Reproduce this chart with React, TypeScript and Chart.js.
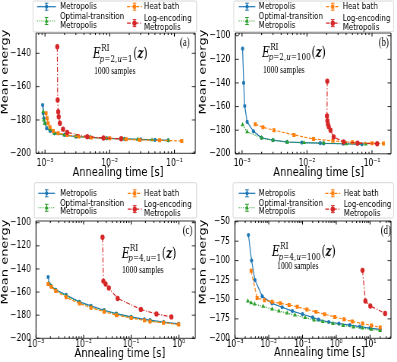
import React, { useEffect, useRef } from "react";
import { Chart, registerables } from "chart.js";
Chart.register(...registerables);

const K = 0.76; // horizontal squeeze of the reference figure

const BLUE = "#1f77b4";
const ORANGE = "#ff7f0e";
const GREEN = "#2ca02c";
const RED = "#d62728";

// ---------- tick labels ----------
const X_TICKS_AB = [1e-3, 1e-2, 1e-1];
const X_TICKS_C = [1e-3, 1e-2, 1e-1, 1];
const X_TICKS_D = [1e-3, 1e-2, 1e-1, 1, 10];
const Y_TICKS_A = [-200, -180, -160, -140];
const Y_TICKS_BC = [-200, -180, -160, -140, -120, -100];
const Y_TICKS_D = [-200, -175, -150, -125, -100, -75, -50];

const LEGEND_NAMES = ["Metropolis", "Optimal-transition\nMetropolis", "Heat bath", "Log-encoding\nMetropolis"];

// ---------- panel (a) p=2, u=1 ----------
const A_MET_X = [0.00092, 0.00094, 0.00096, 0.001, 0.00106, 0.0012, 0.0014, 0.002, 0.003, 0.005, 0.009, 0.017, 0.03, 0.05, 0.08];
const A_MET_Y = [-171, -176, -179, -182, -185, -186.6, -188, -189, -190, -190.4, -191, -191.4, -191.6, -192, -192.2];
const A_OPT_X = [0.00094, 0.00096, 0.00099, 0.0012, 0.0014, 0.002, 0.003, 0.005, 0.009, 0.016, 0.027, 0.045, 0.08];
const A_OPT_Y = [-175, -180, -182, -185.6, -188, -189, -190, -190.4, -191, -191.4, -191.6, -192, -192.4];
const A_HB_X = [0.00104, 0.00108, 0.00112, 0.0012, 0.00134, 0.0016, 0.0022, 0.0033, 0.0052, 0.01, 0.018, 0.029, 0.059, 0.13];
const A_HB_Y = [-176, -179, -182, -184.4, -186.6, -188, -189, -190, -190.6, -191, -191.6, -192, -192.2, -192.6];
const A_LOG_X = [0.00155, 0.00157, 0.0016, 0.00163, 0.0017, 0.0019, 0.0022, 0.0045, 0.008, 0.015];
const A_LOG_Y = [-136, -168, -175, -178, -182, -185.5, -187.5, -190, -190.8, -191.3];

// ---------- panel (b) p=2, u=100 ----------
const B_MET_X = [0.00102, 0.00106, 0.0011, 0.0012, 0.0015, 0.002, 0.003, 0.0049, 0.0083, 0.016, 0.018, 0.036, 0.07];
const B_MET_Y = [-111, -140, -159.5, -173, -181, -186.5, -188.5, -190, -190.5, -191, -191.2, -191.5, -192];
const B_OPT_X = [0.00102, 0.0012, 0.002, 0.003, 0.005, 0.009, 0.018, 0.04, 0.08];
const B_OPT_Y = [-175.5, -181.4, -186.5, -188.5, -190, -190.6, -191, -191.5, -191.8];
const B_HB_X = [0.0016, 0.0021, 0.0031, 0.0063, 0.0126, 0.025, 0.05, 0.1, 0.15];
const B_HB_Y = [-175, -177.5, -180, -184, -187.5, -189, -190.3, -191, -191.2];
const B_LOG_X = [0.0205, 0.0203, 0.0206, 0.021, 0.0216, 0.023, 0.0257, 0.0366, 0.06, 0.12];
const B_LOG_Y = [-138.5, -168, -172, -175, -177, -180, -185.7, -190, -191, -191.5];

// ---------- panel (c) p=4, u=1 ----------
const C_MET_X = [0.0018, 0.0019, 0.0021, 0.0026, 0.0043, 0.0082, 0.0143, 0.027, 0.049, 0.1, 0.19, 0.25, 0.48, 1.0];
const C_MET_Y = [-147, -153, -155, -158, -162.5, -168.5, -172, -175.7, -178.7, -181.5, -183.7, -184.3, -185.9, -187.5];
const C_OPT_X = [0.0018, 0.0021, 0.0026, 0.0043, 0.0082, 0.0143, 0.027, 0.049, 0.1, 0.19, 0.25, 0.48, 1.0];
const C_OPT_Y = [-152.7, -154.8, -158.2, -163.4, -169.2, -172.9, -176.4, -179.3, -182.1, -184.4, -185, -186.5, -187.9];
const C_HB_X = [0.0018, 0.0021, 0.0026, 0.0043, 0.0082, 0.0143, 0.027, 0.049, 0.1, 0.19, 0.25, 0.48, 1.0];
const C_HB_Y = [-153, -155.5, -159, -164.5, -170, -173.5, -177, -180, -182.5, -184.5, -185.5, -186.5, -188];
const C_LOG_X = [0.025, 0.026, 0.029, 0.034, 0.052, 0.16, 0.34, 0.7];
const C_LOG_Y = [-112.5, -150.5, -153, -156.5, -165.5, -175, -179, -181.5];

// ---------- panel (d) p=4, u=100 ----------
const D_MET_X = [0.0025, 0.0031, 0.0039, 0.0064, 0.0125, 0.025, 0.05, 0.1, 0.2, 0.3, 0.6, 1.2, 2.5, 5, 10, 20];
const D_MET_Y = [-67, -100, -125, -146, -155, -160, -165, -169, -173, -176, -179, -181, -183, -185, -187, -188.5];
const D_OPT_X = [0.0024, 0.003, 0.0038, 0.0068, 0.0126, 0.02, 0.035, 0.06, 0.12, 0.22, 0.4, 0.8, 1.6, 3.2, 6, 11, 20];
const D_OPT_Y = [-152, -154.5, -156, -159, -162.5, -165, -167.5, -170, -173.5, -176.5, -178.5, -181, -183.5, -185.5, -187, -188.5, -190];
const D_HB_X = [0.003, 0.0045, 0.0075, 0.0125, 0.022, 0.04, 0.07, 0.135, 0.25, 0.45, 0.9, 1.7, 3, 6, 11, 20];
const D_HB_Y = [-113, -148, -151, -153, -155, -157, -159.5, -163, -166, -169, -172.5, -175.5, -178.5, -181, -183.5, -186];
const D_LOG_X = [6.0, 7.3, 10.2, 28];
const D_LOG_Y = [-112.5, -152, -158.4, -168];

type Series = [number[], number[]];
type LegendGeom = {
  box: [number, number, number, number];
  c1Icon: [number, number];
  c1Text: number;
  c2Icon: [number, number];
  c2Text: number;
  r1: number;
  c1r2: [number, number];
  c2r2: [number, number];
};
type PanelCfg = {
  ox: number; oy: number; w: number; h: number;
  area: [number, number, number, number];
  xMin: number; xMax: number; yMin: number; yMax: number;
  xTicks: number[]; yTicks: number[];
  met: Series; opt: Series; hb: Series; log: Series;
  sub: string; tag: string;
  eX: number; eY: number; sX: number; sY: number; tX: number; tY: number;
  xLabelDy: number; xTitleX: number; xTitleY: number; yTitleX: number; yTitleY: number;
  legend: LegendGeom;
};

const STYLES = {
  met: { color: BLUE, dash: [] as number[], style: "circle", r: 2.1 },
  opt: { color: GREEN, dash: [1.2, 1.6], style: "triangle", r: 2.8 },
  hb: { color: ORANGE, dash: [4, 2], style: "rect", r: 2.8 },
  log: { color: RED, dash: [5, 2, 1.2, 2], style: "circle", r: 2.7 },
};

const SUP: Record<string, string> = { "-": "⁻", "0": "⁰", "1": "¹", "2": "²", "3": "³" };
function logLabel(v: number) {
  const e = Math.round(Math.log10(v));
  return "10" + String(e).split("").map((c) => SUP[c]).join("");
}
function numLabel(v: number) {
  return v < 0 ? "\u2212" + Math.abs(v) : String(v);
}

function drawMarker(ctx: CanvasRenderingContext2D, style: string, x: number, y: number, r: number) {
  ctx.beginPath();
  if (style === "circle") {
    ctx.arc(x, y, r, 0, Math.PI * 2);
  } else if (style === "rect") {
    const s = r * Math.SQRT1_2;
    ctx.rect(x - s, y - s, 2 * s, 2 * s);
  } else {
    let a = 0;
    ctx.moveTo(x + Math.sin(a) * r, y - Math.cos(a) * r);
    a += (2 * Math.PI) / 3;
    ctx.lineTo(x + Math.sin(a) * r, y - Math.cos(a) * r);
    a += (2 * Math.PI) / 3;
    ctx.lineTo(x + Math.sin(a) * r, y - Math.cos(a) * r);
    ctx.closePath();
  }
  ctx.fill();
}

function drawIcon(ctx: CanvasRenderingContext2D, x1: number, x2: number, y: number, st: any) {
  ctx.save();
  ctx.strokeStyle = st.color;
  ctx.fillStyle = st.color;
  ctx.lineWidth = 1.2;
  ctx.setLineDash(st.dash);
  ctx.beginPath();
  ctx.moveTo(x1 / K, y);
  ctx.lineTo(x2 / K, y);
  ctx.stroke();
  ctx.setLineDash([]);
  const cx = (x1 + x2) / 2 / K;
  ctx.lineWidth = 1 / K;
  ctx.beginPath();
  ctx.moveTo(cx, y - 3.5);
  ctx.lineTo(cx, y + 3.5);
  ctx.stroke();
  ctx.lineWidth = 1;
  ctx.beginPath();
  ctx.moveTo(cx - 1.8 / K, y - 3.5);
  ctx.lineTo(cx + 1.8 / K, y - 3.5);
  ctx.moveTo(cx - 1.8 / K, y + 3.5);
  ctx.lineTo(cx + 1.8 / K, y + 3.5);
  ctx.stroke();
  drawMarker(ctx, st.style, cx, y, st.r);
  ctx.restore();
}

function decor(p: PanelCfg) {
  return {
    id: "decor",
    afterDatasetsDraw(chart: any) {
      const ctx: CanvasRenderingContext2D = chart.ctx;
      const { left, right, top, bottom } = chart.chartArea;
      const xs = chart.scales.x;
      const ys = chart.scales.y;
      ctx.save();
      ctx.strokeStyle = "#000";
      ctx.fillStyle = "#000";
      // frame
      ctx.lineWidth = 0.8;
      ctx.beginPath();
      ctx.moveTo(left, top); ctx.lineTo(right, top);
      ctx.moveTo(left, bottom); ctx.lineTo(right, bottom);
      ctx.stroke();
      ctx.lineWidth = 0.8 / K;
      ctx.beginPath();
      ctx.moveTo(left, top); ctx.lineTo(left, bottom);
      ctx.moveTo(right, top); ctx.lineTo(right, bottom);
      ctx.stroke();
      // y ticks
      ctx.lineWidth = 0.8;
      ctx.font = "10px 'DejaVu Sans'";
      ctx.textAlign = "right";
      ctx.textBaseline = "middle";
      for (const v of p.yTicks) {
        const py = ys.getPixelForValue(v);
        ctx.beginPath();
        ctx.moveTo(left, py); ctx.lineTo(left + 3.5 / K, py);
        ctx.moveTo(right, py); ctx.lineTo(right - 3.5 / K, py);
        ctx.stroke();
        ctx.fillText(numLabel(v), left - 5 / K, py);
      }
      // x ticks (major + minor)
      ctx.lineWidth = 0.8 / K;
      const d0 = Math.floor(Math.log10(p.xMin));
      const d1 = Math.ceil(Math.log10(p.xMax));
      for (let d = d0; d <= d1; d++) {
        for (let m = 2; m <= 9; m++) {
          const v = m * Math.pow(10, d);
          if (v <= p.xMin || v >= p.xMax) continue;
          const px = xs.getPixelForValue(v);
          ctx.beginPath();
          ctx.moveTo(px, bottom); ctx.lineTo(px, bottom - 2);
          ctx.moveTo(px, top); ctx.lineTo(px, top + 2);
          ctx.stroke();
        }
      }
      ctx.textAlign = "center";
      for (const v of p.xTicks) {
        const px = xs.getPixelForValue(v);
        ctx.beginPath();
        ctx.moveTo(px, bottom); ctx.lineTo(px, bottom - 3.5);
        ctx.moveTo(px, top); ctx.lineTo(px, top + 3.5);
        ctx.stroke();
        ctx.fillText(logLabel(v), px, bottom + p.xLabelDy);
      }
      // axis titles
      ctx.font = "13px 'DejaVu Sans'";
      ctx.fillText("Annealing time [s]", p.xTitleX / K, p.xTitleY);
      ctx.save();
      ctx.translate(p.yTitleX / K, p.yTitleY);
      ctx.rotate(-Math.PI / 2);
      ctx.fillText("Mean energy", 0, 0);
      ctx.restore();

      // formula annotation
      const base = p.eY + 5;
      let x = p.eX / K;
      ctx.textAlign = "left";
      ctx.textBaseline = "alphabetic";
      ctx.font = "italic 14px 'DejaVu Serif'";
      ctx.fillText("E", x, base);
      const wE = ctx.measureText("E").width;
      ctx.font = "9.5px 'DejaVu Serif'";
      ctx.fillText("RI", x + wE + 0.5, base - 7);
      const wRI = ctx.measureText("RI").width;
      let sx = x + wE - 1.5;
      for (const ch of p.sub.split("")) {
        const it = ch === "p" || ch === "u";
        ctx.font = (it ? "italic " : "") + "9.5px 'DejaVu Serif'";
        ctx.fillText(ch, sx, base + 3.5);
        sx += ctx.measureText(ch).width;
      }
      x = Math.max(sx, x + wE + 0.5 + wRI) + 1;
      ctx.font = "14px 'DejaVu Serif'";
      ctx.fillText("(", x, base);
      x += ctx.measureText("(").width;
      ctx.font = "italic bold 14px 'DejaVu Serif'";
      ctx.fillText("z", x, base);
      x += ctx.measureText("z").width;
      ctx.font = "14px 'DejaVu Serif'";
      ctx.fillText(")", x, base);

      ctx.textBaseline = "middle";
      ctx.font = "10px 'Liberation Serif'";
      ctx.fillText("1000 samples", p.sX / K, p.sY);
      ctx.font = "11.5px 'Liberation Serif'";
      ctx.fillText(p.tag, p.tX / K, p.tY);

      // legend
      const lg = p.legend;
      const [bx1, by1, bx2, by2] = lg.box;
      ctx.fillStyle = "rgba(255,255,255,0.8)";
      ctx.strokeStyle = "#cccccc";
      ctx.lineWidth = 0.8;
      ctx.beginPath();
      ctx.roundRect(bx1 / K, by1, (bx2 - bx1) / K, by2 - by1, 2);
      ctx.fill();
      ctx.stroke();
      drawIcon(ctx, lg.c1Icon[0], lg.c1Icon[1], lg.r1, STYLES.met);
      drawIcon(ctx, lg.c1Icon[0], lg.c1Icon[1], (lg.c1r2[0] + lg.c1r2[1]) / 2, STYLES.opt);
      drawIcon(ctx, lg.c2Icon[0], lg.c2Icon[1], lg.r1, STYLES.hb);
      drawIcon(ctx, lg.c2Icon[0], lg.c2Icon[1], (lg.c2r2[0] + lg.c2r2[1]) / 2, STYLES.log);
      ctx.fillStyle = "#000";
      ctx.font = "9.3px 'DejaVu Sans'";
      ctx.textAlign = "left";
      ctx.textBaseline = "middle";
      ctx.fillText(LEGEND_NAMES[0], lg.c1Text / K, lg.r1);
      const n1 = LEGEND_NAMES[1].split("\n");
      ctx.fillText(n1[0], lg.c1Text / K, lg.c1r2[0]);
      ctx.fillText(n1[1], lg.c1Text / K, lg.c1r2[1]);
      ctx.fillText(LEGEND_NAMES[2], lg.c2Text / K, lg.r1);
      const n3 = LEGEND_NAMES[3].split("\n");
      ctx.fillText(n3[0], lg.c2Text / K, lg.c2r2[0]);
      ctx.fillText(n3[1], lg.c2Text / K, lg.c2r2[1]);
      ctx.restore();
    },
  };
}

const LEG_TOP_A: LegendGeom = { box: [33, 1, 196.7, 32], c1Icon: [37, 56], c1Text: 60, c2Icon: [127, 142], c2Text: 144, r1: 6.7, c1r2: [16.5, 25.5], c2r2: [18.8, 27.5] };
const LEG_TOP_B: LegendGeom = { box: [35.7, 1, 195.7, 31.7], c1Icon: [40.7, 57.3], c1Text: 60.7, c2Icon: [128, 141.5], c2Text: 144.7, r1: 6.7, c1r2: [16.5, 25.5], c2r2: [18.8, 27.5] };
const LEG_BOT_C: LegendGeom = { box: [34.3, 1.7, 196.7, 37], c1Icon: [38.3, 55], c1Text: 60, c2Icon: [127.7, 141.7], c2Text: 144, r1: 12.3, c1r2: [22.5, 31], c2r2: [24, 32.3] };
const LEG_BOT_D: LegendGeom = { box: [35, 1.7, 195.7, 37], c1Icon: [40.7, 57.3], c1Text: 60.7, c2Icon: [127.3, 142.3], c2Text: 145.7, r1: 12.3, c1r2: [22.5, 31], c2r2: [24, 32.3] };

const PANELS: PanelCfg[] = [
  {
    ox: 0, oy: 0, w: 198, h: 181, area: [36, 33, 196, 153.3],
    xMin: 7.27e-4, xMax: 0.21, yMin: -200, yMax: -127.8, xTicks: X_TICKS_AB, yTicks: Y_TICKS_A,
    met: [A_MET_X, A_MET_Y], opt: [A_OPT_X, A_OPT_Y], hb: [A_HB_X, A_HB_Y], log: [A_LOG_X, A_LOG_Y],
    sub: "p=2,u=1", tag: "(a)", eX: 93, eY: 53, sX: 94, sY: 71, tX: 180, tY: 43,
    xLabelDy: 10, xTitleX: 118, xTitleY: 172.7, yTitleX: 5, yTitleY: 72, legend: LEG_TOP_A,
  },
  {
    ox: 198, oy: 0, w: 199, h: 181, area: [37.3, 33, 193, 153.8],
    xMin: 7.89e-4, xMax: 0.196, yMin: -200, yMax: -97.7, xTicks: X_TICKS_AB, yTicks: Y_TICKS_BC,
    met: [B_MET_X, B_MET_Y], opt: [B_OPT_X, B_OPT_Y], hb: [B_HB_X, B_HB_Y], log: [B_LOG_X, B_LOG_Y],
    sub: "p=2,u=100", tag: "(b)", eX: 64, eY: 51.7, sX: 65, sY: 70, tX: 180.7, tY: 42.7,
    xLabelDy: 10, xTitleX: 120.7, xTitleY: 172.7, yTitleX: 5, yTitleY: 72, legend: LEG_TOP_B,
  },
  {
    ox: 0, oy: 181, w: 198, h: 181, area: [36, 40, 196.7, 157.3],
    xMin: 1e-3, xMax: 2.23, yMin: -200, yMax: -98.5, xTicks: X_TICKS_C, yTicks: Y_TICKS_BC,
    met: [C_MET_X, C_MET_Y], opt: [C_OPT_X, C_OPT_Y], hb: [C_HB_X, C_HB_Y], log: [C_LOG_X, C_LOG_Y],
    sub: "p=4,u=1", tag: "(c)", eX: 121.7, eY: 71.7, sX: 122, sY: 89.3, tX: 182.7, tY: 50,
    xLabelDy: 6.5, xTitleX: 120, xTitleY: 173, yTitleX: 5, yTitleY: 81, legend: LEG_BOT_C,
  },
  {
    ox: 198, oy: 181, w: 199, h: 181, area: [37, 40, 193, 157.3],
    xMin: 1e-3, xMax: 41.9, yMin: -200, yMax: -49, xTicks: X_TICKS_D, yTicks: Y_TICKS_D,
    met: [D_MET_X, D_MET_Y], opt: [D_OPT_X, D_OPT_Y], hb: [D_HB_X, D_HB_Y], log: [D_LOG_X, D_LOG_Y],
    sub: "p=4,u=100", tag: "(d)", eX: 74, eY: 70, sX: 79, sY: 85, tX: 182.7, tY: 50,
    xLabelDy: 6.5, xTitleX: 121.5, xTitleY: 172, yTitleX: 5, yTitleY: 81, legend: LEG_BOT_D,
  },
];

function makeDs(label: string, s: Series, st: any, order: number) {
  return {
    label,
    data: s[0].map((x, i) => ({ x, y: s[1][i] })),
    borderColor: st.color,
    backgroundColor: st.color,
    pointBackgroundColor: st.color,
    pointBorderColor: st.color,
    pointBorderWidth: 0,
    pointStyle: st.style,
    pointRadius: st.r,
    borderWidth: 1.2,
    borderDash: st.dash,
    tension: 0,
    fill: false,
    order,
  };
}

function Panel({ cfg }: { cfg: PanelCfg }) {
  const ref = useRef<HTMLCanvasElement>(null);
  const cw = Math.round(cfg.w / K);
  useEffect(() => {
    const c = ref.current!;
    const [L, T, R, B] = cfg.area;
    const chart = new Chart(c, {
      type: "line",
      data: {
        datasets: [
          makeDs("Metropolis", cfg.met, STYLES.met, 4),
          makeDs("Optimal-transition Metropolis", cfg.opt, STYLES.opt, 3),
          makeDs("Heat bath", cfg.hb, STYLES.hb, 2),
          makeDs("Log-encoding Metropolis", cfg.log, STYLES.log, 1),
        ] as any,
      },
      options: {
        animation: false,
        responsive: false,
        events: [],
        layout: { padding: { left: L / K, top: T, right: cw - R / K, bottom: cfg.h - B } },
        scales: {
          x: { type: "logarithmic", min: cfg.xMin, max: cfg.xMax, display: false },
          y: { type: "linear", min: cfg.yMin, max: cfg.yMax, display: false },
        },
        plugins: { legend: { display: false }, tooltip: { enabled: false } },
      } as any,
      plugins: [decor(cfg) as any],
    });
    return () => chart.destroy();
  }, []);
  return (
    <div
      style={{
        position: "absolute",
        left: cfg.ox,
        top: cfg.oy,
        width: cw,
        height: cfg.h,
        transform: `scaleX(${K})`,
        transformOrigin: "0 0",
      }}
    >
      <canvas ref={ref} width={cw} height={cfg.h} style={{ width: cw, height: cfg.h, display: "block" }} />
    </div>
  );
}

export default function App() {
  return (
    <div style={{ position: "fixed", left: 0, top: 0, width: 397, height: 362, background: "#fff", overflow: "hidden" }}>
      {PANELS.map((p, i) => (
        <Panel key={i} cfg={p} />
      ))}
    </div>
  );
}
